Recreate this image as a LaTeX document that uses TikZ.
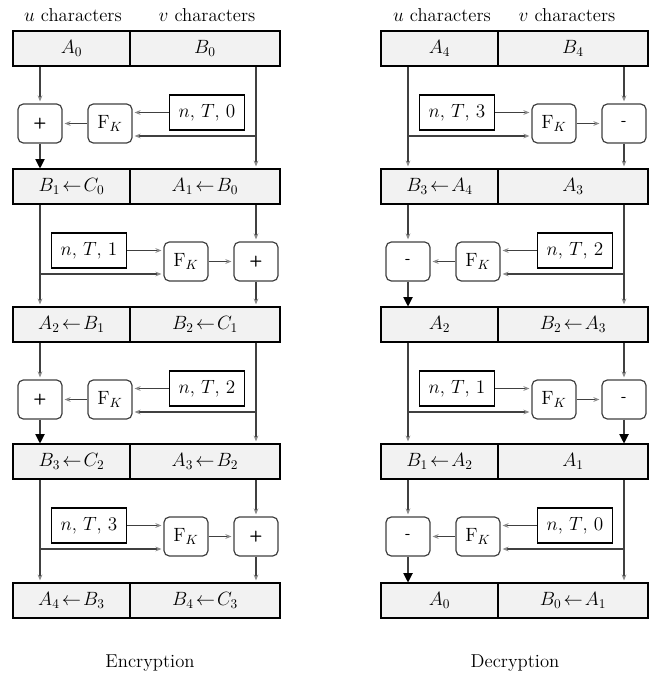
\documentclass[tikz,border=0pt]{standalone}
\usetikzlibrary{arrows.meta}
\definecolor{rowfill}{HTML}{F2F2F2}
\definecolor{linegray}{HTML}{404040}
\definecolor{tipgray}{HTML}{8A8A8A}
\newcommand{\fs}{\fontsize{14}{16}\selectfont}
\newcommand{\opfs}{\fontsize{11.5}{13}\selectfont\sffamily\bfseries}
\tikzset{
  rowL/.style={draw=black, line width=0.8pt, fill=rowfill, minimum width=87.75pt, minimum height=26.25pt, inner sep=0pt, font=\fs},
  rowR/.style={rowL, minimum width=112.5pt},
  opbox/.style={draw=linegray, line width=0.9pt, fill=white, rounded corners=4pt, minimum width=33pt, minimum height=29.25pt, inner sep=0pt, font=\opfs},
  fkbox/.style={opbox, font=\fs},
  ntbox/.style={draw=black, line width=0.8pt, fill=white, minimum width=56.25pt, minimum height=26.25pt, inner sep=0pt, font=\fs},
  ln/.style={draw=linegray, line width=0.8pt},
  gtip/.style={-{Stealth[length=4.5pt,width=3.6pt,color=tipgray]}, shorten >=1.5pt},
  btip/.style={-{Triangle[length=7pt,width=7pt,color=black]}},
  lbl/.style={font=\fs, inner sep=0pt}
}
% type A: operation on the left, main line on the right
\newcommand{\rndA}[8]{%
  \node[opbox] (#1op) at (40+#2, #3+57.5) {#4};
  \node[fkbox] (#1fk) at (110+#2, #3+57.5) {$\mathrm{F}_K$};
  \node[ntbox] (#1nt) at (207+#2, #3+46.5) {$n$, $T$, $#5$};
  \coordinate (#1br) at (256+#2, #3+70);
  \draw[ln, gtip] (#6L.south -| #1op.north) -- (#1op.north);
  \draw[ln, #8] (#1op.south) -- (#7L.north -| #1op.south);
  \draw[ln, gtip] (#1fk.west) -- (#1op.east);
  \draw[ln, gtip] (#1nt.west) -- (#1nt.west -| #1fk.east);
  \draw[ln, gtip] (#6R.south -| #1br) -- (#7R.north -| #1br);
  \draw[ln, gtip] (#1br) -- (#1br -| #1fk.east);
}
% type B: operation on the right, main line on the left
\newcommand{\rndB}[8]{%
  \node[opbox] (#1op) at (256+#2, #3+57.5) {#4};
  \node[fkbox] (#1fk) at (186+#2, #3+57.5) {$\mathrm{F}_K$};
  \node[ntbox] (#1nt) at (89+#2, #3+46.5) {$n$, $T$, $#5$};
  \coordinate (#1br) at (40+#2, #3+70);
  \draw[ln, gtip] (#6R.south -| #1op.north) -- (#1op.north);
  \draw[ln, #8] (#1op.south) -- (#7R.north -| #1op.south);
  \draw[ln, gtip] (#1fk.east) -- (#1op.west);
  \draw[ln, gtip] (#1nt.east) -- (#1nt.east -| #1fk.west);
  \draw[ln, gtip] (#6L.south -| #1br) -- (#7L.north -| #1br);
  \draw[ln, gtip] (#1br) -- (#1br -| #1fk.west);
}
\begin{document}
\begin{tikzpicture}[x=0.75pt, y=-0.75pt]
\useasboundingbox (0,0) rectangle (654,677);
% headers
\node[lbl] (ehu) at (73,15) {$u$ characters};
\node[lbl] (ehv) at (207,15) {$v$ characters};
\node[lbl] (dhu) at (442,15) {$u$ characters};
\node[lbl] (dhv) at (567,15) {$v$ characters};
% encryption rows
\node[rowL] (e0L) at (71.5,48.5) {$A_0$};
\node[rowR] (e0R) at (205,48.5) {$B_0$};
\node[rowL] (e1L) at (71.5,186.5) {$B_1 \!\leftarrow\! C_0$};
\node[rowR] (e1R) at (205,186.5) {$A_1 \!\leftarrow\! B_0$};
\node[rowL] (e2L) at (71.5,324.5) {$A_2 \!\leftarrow\! B_1$};
\node[rowR] (e2R) at (205,324.5) {$B_2 \!\leftarrow\! C_1$};
\node[rowL] (e3L) at (71.5,461.5) {$B_3 \!\leftarrow\! C_2$};
\node[rowR] (e3R) at (205,461.5) {$A_3 \!\leftarrow\! B_2$};
\node[rowL] (e4L) at (71.5,600.5) {$A_4 \!\leftarrow\! B_3$};
\node[rowR] (e4R) at (205,600.5) {$B_4 \!\leftarrow\! C_3$};
% decryption rows
\node[rowL] (d0L) at (439.5,48.5) {$A_4$};
\node[rowR] (d0R) at (573,48.5) {$B_4$};
\node[rowL] (d1L) at (439.5,186.5) {$B_3 \!\leftarrow\! A_4$};
\node[rowR] (d1R) at (573,186.5) {$A_3$};
\node[rowL] (d2L) at (439.5,324.5) {$A_2$};
\node[rowR] (d2R) at (573,324.5) {$B_2 \!\leftarrow\! A_3$};
\node[rowL] (d3L) at (439.5,461.5) {$B_1 \!\leftarrow\! A_2$};
\node[rowR] (d3R) at (573,461.5) {$A_1$};
\node[rowL] (d4L) at (439.5,600.5) {$A_0$};
\node[rowR] (d4R) at (573,600.5) {$B_0 \!\leftarrow\! A_1$};
% encryption rounds
\rndA{ea}{0}{66}{+}{0}{e0}{e1}{btip}
\rndB{eb}{0}{204}{+}{1}{e1}{e2}{gtip}
\rndA{ec}{0}{342}{+}{2}{e2}{e3}{btip}
\rndB{ed}{0}{479}{+}{3}{e3}{e4}{gtip}
% decryption rounds
\rndB{da}{368}{66}{-}{3}{d0}{d1}{gtip}
\rndA{db}{368}{204}{-}{2}{d1}{d2}{btip}
\rndB{dc}{368}{342}{-}{1}{d2}{d3}{btip}
\rndA{dd}{368}{479}{-}{0}{d3}{d4}{btip}
% captions
\node[lbl] (enc) at (150,663) {Encryption};
\node[lbl] (dec) at (515,663) {Decryption};
\end{tikzpicture}
\end{document}
